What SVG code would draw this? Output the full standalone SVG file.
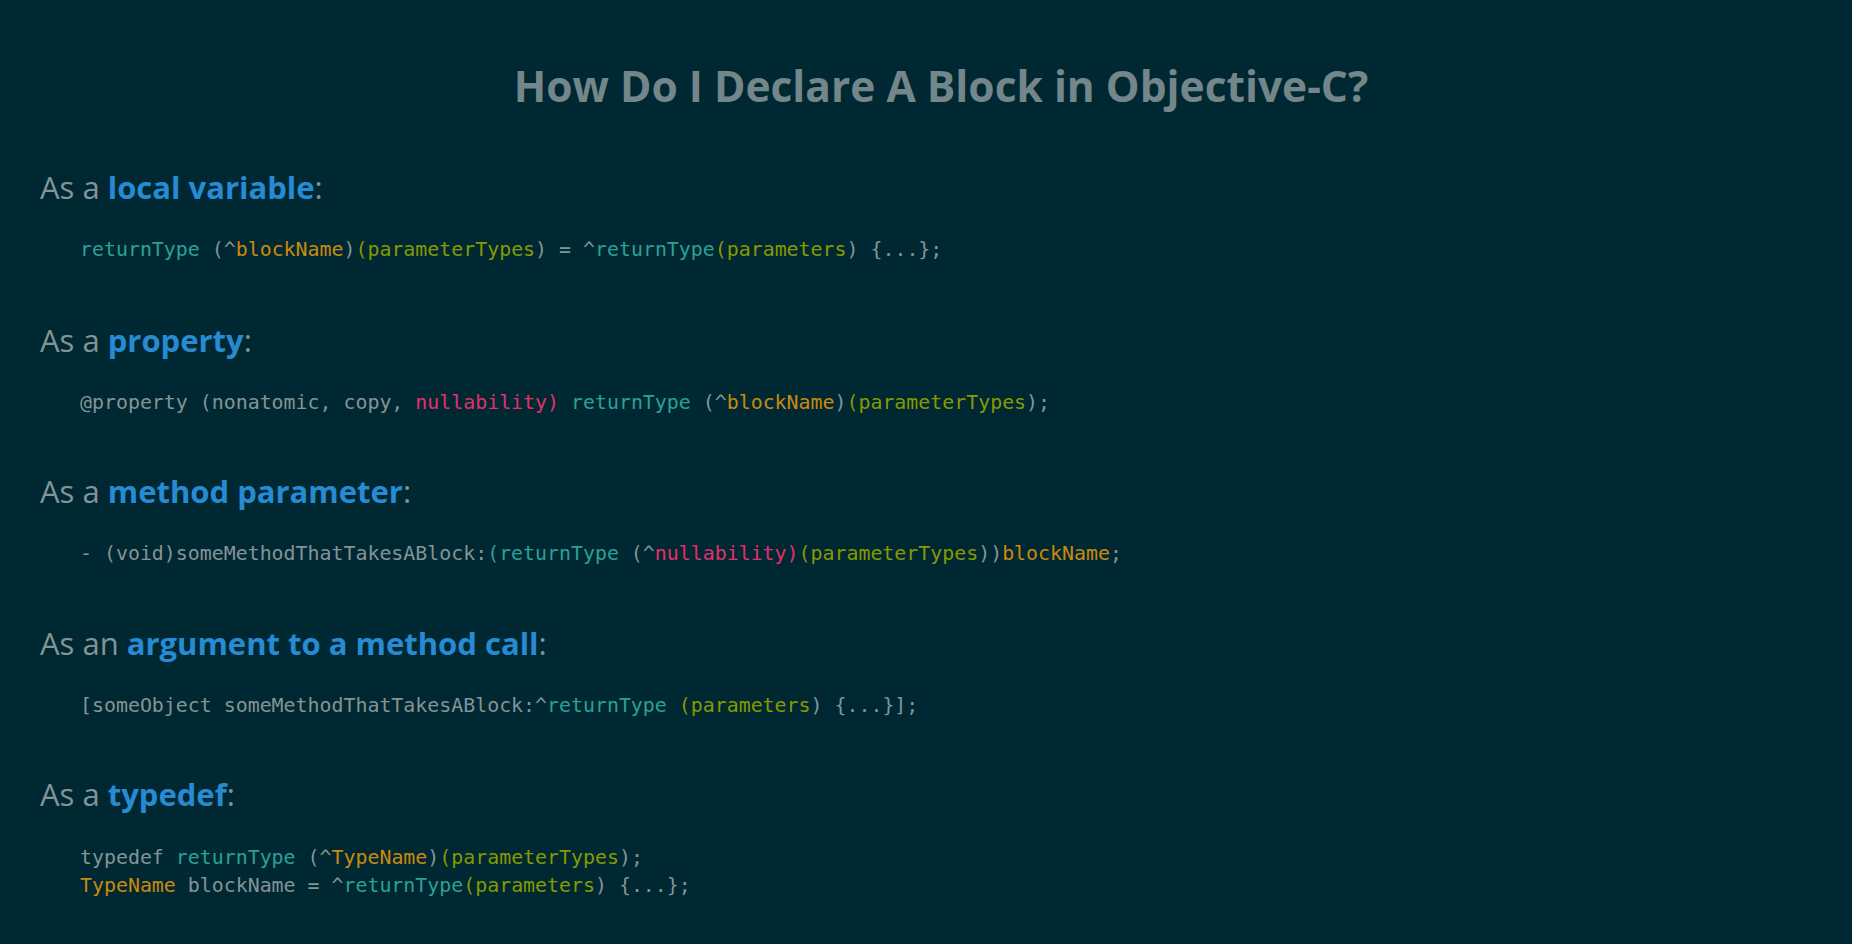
<svg xmlns="http://www.w3.org/2000/svg" width="1852" height="944" viewBox="0 0 1852 944">
<style>
.title{font-family:"Open Sans","DejaVu Sans",sans-serif;font-weight:700;font-size:42.5px;fill:#73868a}
.h{font-family:"Open Sans","DejaVu Sans",sans-serif;font-size:31px;fill:#839496}
.hb{font-weight:700;fill:#268bd2}
.code{font-family:"DejaVu Sans Mono","Liberation Mono",monospace;font-size:19.9px;fill:#839496}
.c{fill:#2aa198}.o{fill:#c98a0f}.g{fill:#859900}.m{fill:#e0306a}
</style>
<rect width="1852" height="944" fill="#002832"/>
<g id="title"><text class="title" x="941" y="102" text-anchor="middle">How Do I Declare A Block in Objective-C?</text></g>
<g id="local-variable">
<text class="h" x="40" y="199">As a <tspan class="hb">local variable</tspan>:</text>
<text class="code" x="80" y="256" xml:space="preserve"><tspan class="c">returnType</tspan> (^<tspan class="o">blockName</tspan>)<tspan class="g">(parameterTypes</tspan>) = ^<tspan class="c">returnType</tspan><tspan class="g">(parameters</tspan>) {...};</text>
</g>
<g id="property">
<text class="h" x="40" y="352">As a <tspan class="hb">property</tspan>:</text>
<text class="code" x="80" y="409" xml:space="preserve">@property (nonatomic, copy, <tspan class="m">nullability)</tspan> <tspan class="c">returnType</tspan> (^<tspan class="o">blockName</tspan>)<tspan class="g">(parameterTypes</tspan>);</text>
</g>
<g id="method-parameter">
<text class="h" x="40" y="503">As a <tspan class="hb">method parameter</tspan>:</text>
<text class="code" x="80" y="560" xml:space="preserve">- (void)someMethodThatTakesABlock:<tspan class="c">(returnType</tspan> (^<tspan class="m">nullability)</tspan><tspan class="g">(parameterTypes</tspan>))<tspan class="o">blockName</tspan>;</text>
</g>
<g id="method-call-argument">
<text class="h" x="40" y="655">As an <tspan class="hb">argument to a method call</tspan>:</text>
<text class="code" x="80" y="712" xml:space="preserve">[someObject someMethodThatTakesABlock:^<tspan class="c">returnType</tspan> <tspan class="g">(parameters</tspan>) {...}];</text>
</g>
<g id="typedef">
<text class="h" x="40" y="806">As a <tspan class="hb">typedef</tspan>:</text>
<text class="code" x="80" y="864" xml:space="preserve">typedef <tspan class="c">returnType</tspan> (^<tspan class="o">TypeName</tspan>)<tspan class="g">(parameterTypes</tspan>);</text>
<text class="code" x="80" y="892" xml:space="preserve"><tspan class="o">TypeName</tspan> blockName = ^<tspan class="c">returnType</tspan><tspan class="g">(parameters</tspan>) {...};</text>
</g>
</svg>
